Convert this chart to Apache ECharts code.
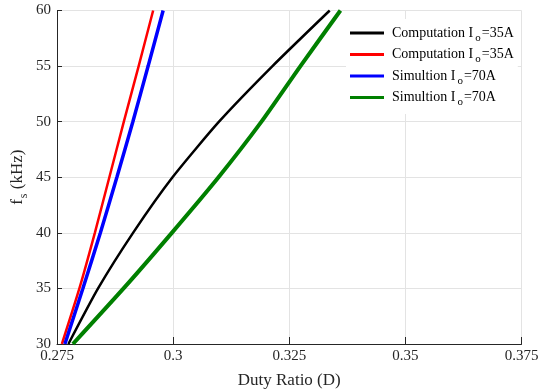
<!DOCTYPE html>
<html>
<head>
<meta charset="utf-8">
<script src="https://cdn.jsdelivr.net/npm/echarts@6/dist/echarts.min.js"></script>
<style>
  html, body { margin: 0; padding: 0; background: #fff; }
  #chart { width: 538px; height: 391px; }
</style>
</head>
<body>
<div id="chart"></div>
<script>
// Switching frequency (kHz) sampled at these levels
const fsLevels = [30, 35, 40, 45, 50, 55, 60];

// Duty ratio reached at each frequency level, per curve
const compBlack = [0.27745, 0.28384, 0.29137, 0.29987, 0.30988, 0.32139, 0.33371];
const compRed   = [0.27605, 0.27982, 0.28315, 0.28627, 0.28939, 0.29258, 0.29570];
const simBlue   = [0.27670, 0.28057, 0.28434, 0.28789, 0.29133, 0.29462, 0.29785];
const simGreen  = [0.27842, 0.28933, 0.29972, 0.30977, 0.31902, 0.32741, 0.33602];

const seriesNames = [
  'Computation Io=35A',
  'Computation Io=35A ',
  'Simultion Io=70A',
  'Simultion Io=70A '
];
const legendLabels = [
  ['Computation I', 'o', '=35A'],
  ['Computation I', 'o', '=35A'],
  ['Simultion I', 'o', '=70A'],
  ['Simultion I', 'o', '=70A']
];
const colors = ['#000000', '#ff0000', '#0000ff', '#008000'];
const widths = [2.5, 2.5, 3.5, 4];
const curves = [compBlack, compRed, simBlue, simGreen];

const xTicks = { min: 0.275, max: 0.375, step: 0.025 };
const yTicks = { min: 30, max: 60, step: 5 };

const FONT = '"Liberation Serif", "Times New Roman", serif';
const gridColor = '#e3e3e3';
const axisColor = '#262626';

const chart = echarts.init(document.getElementById('chart'), null, { renderer: 'canvas' });

const series = curves.map((vals, i) => ({
  name: seriesNames[i],
  type: 'line',
  data: vals.map((d, k) => [d, fsLevels[k]]),
  showSymbol: false,
  symbol: 'none',
  smooth: 0.2,
  lineStyle: { color: colors[i], width: widths[i] },
  itemStyle: { color: colors[i] },
  animation: false,
  z: 3
}));

chart.setOption({
  backgroundColor: '#fff',
  animation: false,
  grid: {
    left: 57, right: 16.5, top: 10.5, bottom: 47,
    containLabel: false,
    outerBoundsMode: 'none'
  },
  xAxis: {
    type: 'value',
    min: xTicks.min,
    max: xTicks.max,
    interval: xTicks.step,
    name: 'Duty Ratio (D)',
    nameLocation: 'middle',
    nameGap: 28,
    nameTextStyle: { fontFamily: FONT, fontSize: 17, color: axisColor },
    axisLine: { show: true, lineStyle: { color: axisColor, width: 1 } },
    axisTick: { show: true, inside: true, length: 7, lineStyle: { color: axisColor } },
    axisLabel: {
      fontFamily: FONT, fontSize: 15, color: axisColor, margin: 5,
      formatter: v => String(+v.toFixed(3))
    },
    splitLine: { show: true, lineStyle: { color: gridColor, width: 1 } }
  },
  yAxis: {
    type: 'value',
    min: yTicks.min,
    max: yTicks.max,
    interval: yTicks.step,
    name: '{a|f}{sub|s}{a| (kHz)}',
    nameLocation: 'middle',
    nameGap: 27,
    nameMoveOverlap: false,
    nameTextStyle: {
      fontFamily: FONT, fontSize: 17, color: axisColor,
      rich: {
        a: { fontFamily: FONT, fontSize: 17, color: axisColor },
        sub: { fontFamily: FONT, fontSize: 12, color: axisColor, padding: [12, 0, 0, 1] }
      }
    },
    axisLine: { show: true, lineStyle: { color: axisColor, width: 1 } },
    axisTick: { show: true, inside: true, length: 5, lineStyle: { color: axisColor } },
    axisLabel: { fontFamily: FONT, fontSize: 15, color: axisColor, margin: 6 },
    splitLine: { show: true, lineStyle: { color: gridColor, width: 1 } }
  },
  legend: {
    orient: 'vertical',
    left: 346,
    top: 19,
    backgroundColor: '#fff',
    padding: [7, 4, 6, 4],
    itemWidth: 34,
    itemHeight: 3,
    itemGap: 4,
    icon: 'rect',
    data: seriesNames.map((n, i) => ({ name: n, itemStyle: { color: colors[i] } })),
    formatter: name => {
      const t = legendLabels[seriesNames.indexOf(name)];
      return '{a|' + t[0] + '}{sub|' + t[1] + '}{a|' + t[2] + '}';
    },
    textStyle: {
      fontFamily: FONT, fontSize: 14, color: '#000', padding: [0, 0, 0, 3],
      rich: {
        a: { fontFamily: FONT, fontSize: 14, color: '#000' },
        sub: { fontFamily: FONT, fontSize: 11, color: '#000', padding: [10, 1, 0, 2] }
      }
    }
  },
  series: series
});
</script>
</body>
</html>
